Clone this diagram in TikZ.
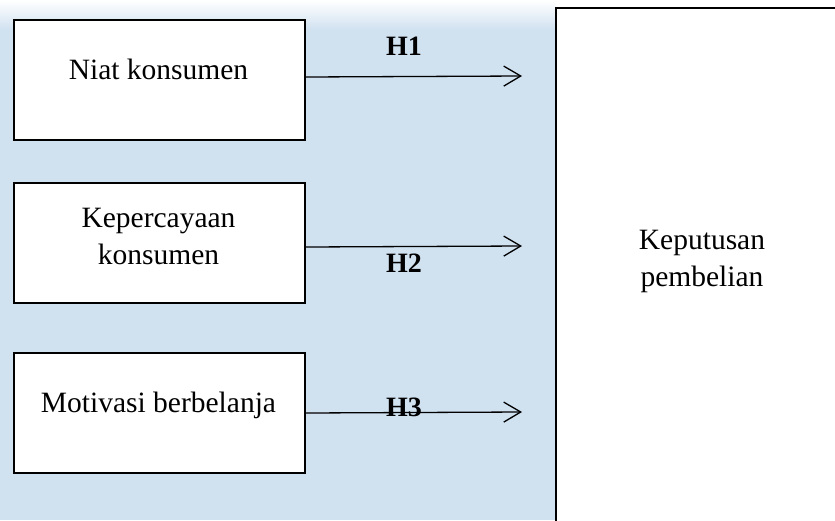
\documentclass[tikz,border=0pt]{standalone}
\usepackage{fontspec}
\setmainfont{Liberation Serif}
\usetikzlibrary{arrows.meta}
\definecolor{wash}{RGB}{208,225,240}
\begin{document}
\begin{tikzpicture}[x=1pt,y=-1pt,
  frame/.style={draw,line width=2pt,fill=white,minimum width=291pt,minimum height=120pt,inner sep=0pt,anchor=north west},
  txt/.style={font=\fontsize{29.5}{37}\selectfont,align=center,inner sep=0pt},
  hyp/.style={font=\fontsize{28}{30}\selectfont\bfseries,inner sep=0pt,anchor=base},
  link/.style={line width=1.3pt,-{Straight Barb[length=17pt,width=20pt,line width=1.3pt]}}]
\useasboundingbox (0,0) rectangle (835,520);
\clip (0,0) rectangle (835,520);
% pale backdrop
\fill[wash] (0,30) rectangle (556,520);
\shade[top color=white,bottom color=wash] (0,0) rectangle (556,30);
% independent variables
\node[frame] (b1) at (13,19) {};
\node[frame] (b2) at (13,182) {};
\node[frame] (b3) at (13,352) {};
\node[txt,anchor=base] (l1) at (158.5,79) {Niat konsumen};
\node[txt] (l2) at (158.5,236) {Kepercayaan\\konsumen};
\node[txt,anchor=base] (l3) at (158.5,412) {Motivasi berbelanja};
% dependent variable
\node[draw,line width=2pt,fill=white,minimum width=300pt,minimum height=530pt,inner sep=0pt,anchor=north west] (dv) at (555,7) {};
\node[txt] (ldv) at (702,261) {Keputusan\\pembelian};
% hypothesis arrows
\coordinate (t1) at (522,76);
\coordinate (t2) at (522,246);
\coordinate (t3) at (522,412);
\draw[link] ([yshift=3pt]b1.east) -- (t1);
\draw[link] ([yshift=-4pt]b2.east) -- (t2);
\draw[link] (b3.east) -- (t3);
\node[hyp] (h1) at (404,55) {H1};
\node[hyp] (h2) at (404,272) {H2};
\node[hyp] (h3) at (404,416) {H3};
\end{tikzpicture}
\end{document}
